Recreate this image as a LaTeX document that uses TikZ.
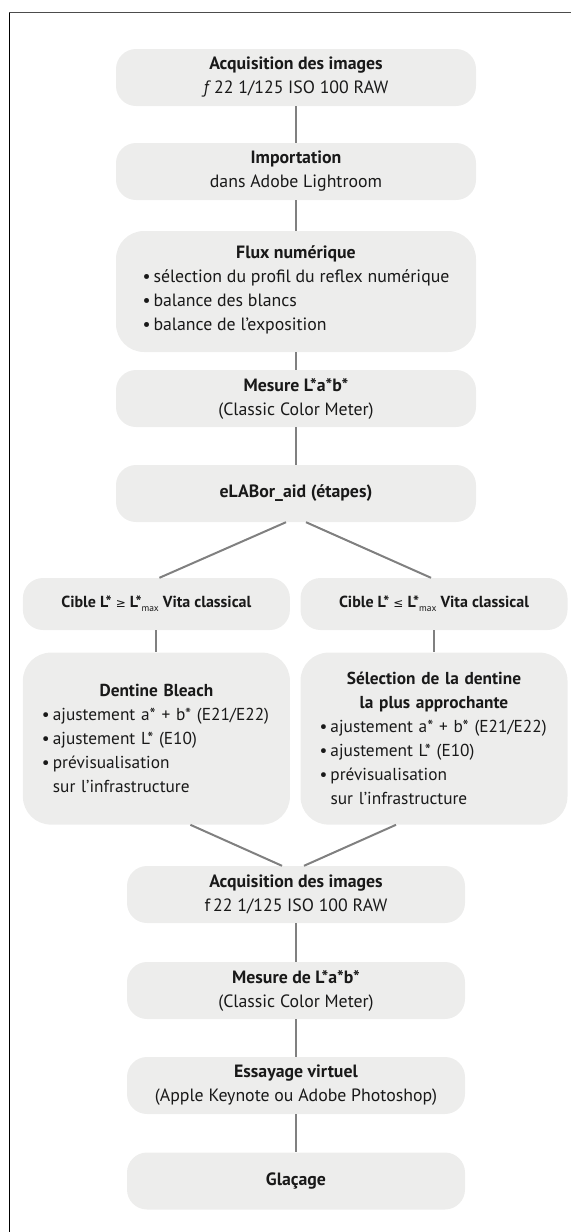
\documentclass[tikz,border=0pt]{standalone}
\usepackage{fontspec}
\setmainfont{PT Sans}
\newfontfamily\symfont{DejaVu Sans}
\definecolor{boxgray}{RGB}{237,237,236}
\definecolor{linkgray}{RGB}{128,128,128}
\definecolor{inkblack}{RGB}{25,25,25}
\newcommand{\itm}[1]{\mbox{\makebox[11pt][l]{\textbullet}#1}}
\newcommand{\Lmax}{L*\raisebox{-4pt}{\fontsize{9.5}{9.5}\selectfont\mdseries max}}
\newcommand{\cmp}[1]{{\fontsize{12}{12}\symfont\mdseries #1}}
\begin{document}
\begin{tikzpicture}[x=1pt,y=-1pt,
    box/.style={fill=boxgray,rounded corners=20pt,minimum width=360pt,minimum height=57pt,
      inner sep=0pt,align=center,text=inkblack,font=\fontsize{17.8}{24}\selectfont},
    tallbox/.style={box,rounded corners=28pt},
    sidebox/.style={box,minimum width=267pt,minimum height=52pt},
    listbox/.style={sidebox,rounded corners=28pt,minimum height=172pt,inner xsep=19pt,
      text width=229pt,align=left,font=\fontsize{17.3}{24}\selectfont},
    link/.style={draw=linkgray,line width=2pt}]
        \useasboundingbox (0,0) rectangle (571,1232);
        \draw[line width=1.4pt,black!70] (9.3,12.7) -- (571,12.7);
        \draw[line width=1.4pt,black] (9.3,12.7) -- (9.3,1232);

        \node[box] (acq) at (296,77.5) {\textbf{Acquisition des images}\\\textit{f}\,22 1/125 ISO 100 RAW};
        \node[box] (imp) at (296,171.5) {\textbf{Importation}\\dans Adobe Lightroom};
        \node[tallbox,minimum height=121pt] (flux) at (296,291.5) {\textbf{Flux numérique}\\
          \begin{tabular}[t]{@{}l@{}}\itm{sélection du profil du reflex numérique}\\
          \itm{balance des blancs}\\\itm{balance de l’exposition}\end{tabular}};
        \node[box] (mes) at (296,398.5) {\textbf{Mesure L*a*b*}\\(Classic Color Meter)};
        \node[box] (elab) at (296,493.5) {\textbf{eLABor\_aid (étapes)}};

        \node[sidebox,font=\fontsize{16}{24}\selectfont] (cibL) at (156.4,604) {\textbf{Cible L* \cmp{≥} \Lmax\ Vita classical}};
        \node[sidebox,font=\fontsize{16}{24}\selectfont] (cibR) at (434,604) {\textbf{Cible L* \cmp{≤} \Lmax\ Vita classical}};
        \node[listbox] (denL) at (156.4,738.6) {\makebox[\linewidth]{\bfseries Dentine Bleach}\\
          \itm{ajustement a* + b* (E21/E22)}\\\itm{ajustement L* (E10)}\\
          \itm{prévisualisation}\\\hspace*{11pt}sur l’infrastructure};
        \node[listbox] (denR) at (434,738.6) {\makebox[\linewidth]{\bfseries Sélection de la dentine}\\
          \makebox[\linewidth]{\bfseries la plus approchante}\\
          \itm{ajustement a* + b* (E21/E22)}\\\itm{ajustement L* (E10)}\\
          \itm{prévisualisation}\\\hspace*{11pt}sur l’infrastructure};

        \node[box,minimum width=338pt] (acqb) at (296,894.5) {\textbf{Acquisition des images}\\f\,22 1/125 ISO 100 RAW};
        \node[box,minimum width=338pt] (mesb) at (296,990.5) {\textbf{Mesure de L*a*b*}\\(Classic Color Meter)};
        \node[box,minimum width=338pt] (ess) at (296,1085.5) {\textbf{Essayage virtuel}\\(Apple Keynote ou Adobe Photoshop)};
        \node[box,minimum width=338pt] (gla) at (296,1181) {\textbf{Glaçage}};

        \draw[link] (acq) -- (imp);
        \draw[link] (imp) -- (flux);
        \draw[link] (flux) -- (mes);
        \draw[link] (mes) -- (elab);
        \draw[link] ([xshift=-10pt]elab.south) -- ([xshift=3pt]cibL.north);
        \draw[link] ([xshift=10pt]elab.south) -- ([xshift=-3pt]cibR.north);
        \draw[link] (cibL) -- (denL);
        \draw[link] (cibR) -- (denR);
        \draw[link] ([xshift=34pt]denL.south) -- ([xshift=-14pt]acqb.north);
        \draw[link] ([xshift=-38pt]denR.south) -- ([xshift=8pt]acqb.north);
        \draw[link] (acqb) -- (mesb);
        \draw[link] (mesb) -- (ess);
        \draw[link] (ess) -- (gla);
\end{tikzpicture}
\end{document}
